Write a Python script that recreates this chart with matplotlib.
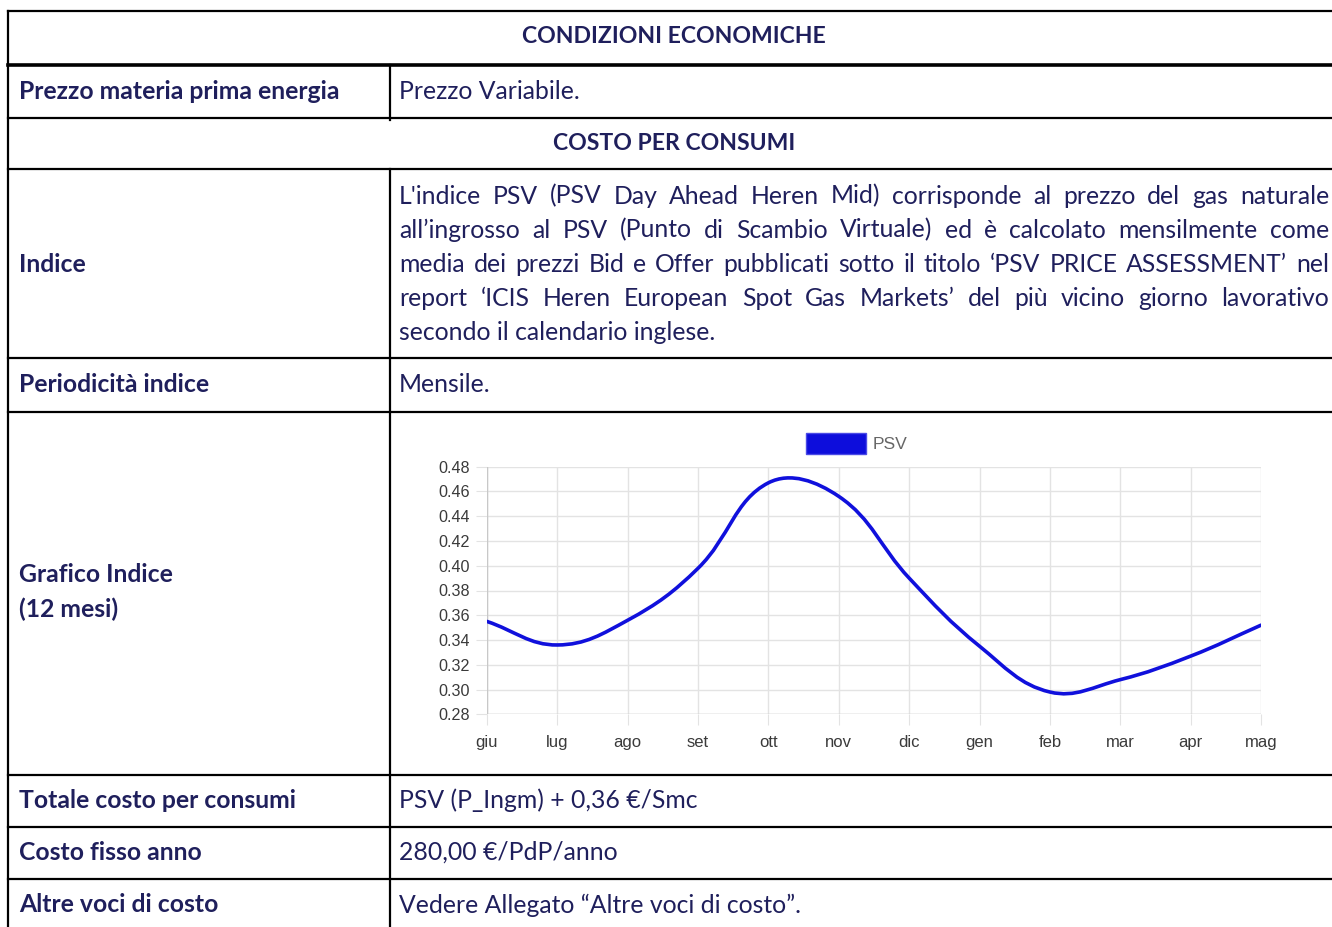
import numpy as np
import matplotlib
matplotlib.use("Agg")
import matplotlib.pyplot as plt
from matplotlib.path import Path
from matplotlib.patches import PathPatch, Rectangle

# dati del grafico PSV (12 mesi)
mesi = ["giu", "lug", "ago", "set", "ott", "nov", "dic", "gen", "feb", "mar", "apr", "mag"]
psv = [0.355, 0.336, 0.356, 0.398, 0.467, 0.456, 0.390, 0.335, 0.298, 0.308, 0.327, 0.352]
y_ticks = [0.28, 0.30, 0.32, 0.34, 0.36, 0.38, 0.40, 0.42, 0.44, 0.46, 0.48]

# testi della tabella
titolo_1 = "CONDIZIONI ECONOMICHE"
titolo_2 = "COSTO PER CONSUMI"
righe = [
    ("Prezzo materia prima energia", "Prezzo Variabile."),
    ("Periodicità indice", "Mensile."),
    ("Totale costo per consumi", "PSV (P_Ingm) + 0,36 €/Smc"),
    ("Costo fisso anno", "280,00 €/PdP/anno"),
    ("Altre voci di costo", "Vedere Allegato \u201cAltre voci di costo\u201d."),
]
indice_righe = [
    "L'indice PSV (PSV Day Ahead Heren Mid) corrisponde al prezzo del gas naturale",
    "all\u2019ingrosso al PSV (Punto di Scambio Virtuale) ed è calcolato mensilmente come",
    "media dei prezzi Bid e Offer pubblicati sotto il titolo \u2018PSV PRICE ASSESSMENT\u2019 nel",
    "report \u2018ICIS Heren European Spot Gas Markets\u2019 del più vicino giorno lavorativo",
    "secondo il calendario inglese.",
]

W, H = 1332, 927
fig = plt.figure(figsize=(W / 100, H / 100), dpi=100)
ax = fig.add_axes([0, 0, 1, 1])
ax.set_xlim(0, W)
ax.set_ylim(H, 0)
ax.axis("off")

navy = "#1f1f5c"
font = "Lato"
fs = 17.8
fs_tit = 16.6
x_left, x_div, x_right = 8, 390, W + 5

# linee orizzontali
ax.plot([x_left, x_right], [11, 11], color="black", lw=1.6)
ax.plot([x_left, x_right], [65, 65], color="black", lw=2.6)
for y in [118, 169, 358, 412, 775, 827, 879]:
    ax.plot([x_left, x_right], [y, y], color="black", lw=1.6)
# linee verticali
ax.plot([x_left, x_left], [11, H + 5], color="black", lw=1.6)
ax.plot([x_div, x_div], [65, 120], color="black", lw=1.6)
ax.plot([x_div, x_div], [169, H + 5], color="black", lw=1.6)

cx = 674
ax.text(cx, 36, titolo_1, ha="center", va="center", fontsize=fs_tit, fontweight="bold", color=navy, family=font)
ax.text(cx, 143, titolo_2, ha="center", va="center", fontsize=fs_tit, fontweight="bold", color=navy, family=font)

ys_righe = [91, 385, 800, 852, 905]
for (lab, val), y in zip(righe, ys_righe):
    ax.text(19, y, lab, ha="left", va="center", fontsize=fs, fontweight="bold", color=navy, family=font)
    ax.text(399, y, val, ha="left", va="center", fontsize=fs, color=navy, family=font)

ax.text(19, 264, "Indice", ha="left", va="center", fontsize=fs, fontweight="bold", color=navy, family=font)
ax.text(19, 575, "Grafico Indice", ha="left", va="center", fontsize=fs, fontweight="bold", color=navy, family=font)
ax.text(19, 609, "(12 mesi)", ha="left", va="center", fontsize=fs, fontweight="bold", color=navy, family=font)

# paragrafo giustificato
renderer = fig.canvas.get_renderer()
x0, x1 = 399, 1329
for i, riga in enumerate(indice_righe):
    y = 196 + 34 * i
    parole = riga.split(" ")
    if i == len(indice_righe) - 1:
        ax.text(x0, y, riga, ha="left", va="center", fontsize=fs, color=navy, family=font)
        continue
    objs = [ax.text(0, y, p, ha="left", va="center", fontsize=fs, color=navy, family=font) for p in parole]
    larg = [o.get_window_extent(renderer).width for o in objs]
    gap = (x1 - x0 - sum(larg)) / (len(parole) - 1)
    x = x0
    for o, w in zip(objs, larg):
        o.set_x(x)
        x += w + gap

# grafico PSV
px_l, px_r, py_t, py_b = 487, 1261, 466.7, 714.3
cax = fig.add_axes([px_l / W, 1 - py_b / H, (px_r - px_l) / W, (py_b - py_t) / H])
cax.set_xlim(0, len(mesi) - 1)
cax.set_ylim(y_ticks[0], y_ticks[-1])
for s in cax.spines.values():
    s.set_visible(False)
cax.set_xticks(range(len(mesi)))
cax.set_xticklabels(mesi)
cax.set_yticks(y_ticks)
cax.set_yticklabels([f"{v:.2f}" for v in y_ticks])
cax.grid(True, color="#e3e3e3", lw=1)
cax.tick_params(length=8, width=0.8, color="#e3e3e3", labelcolor="#3a3a3a")
cax.tick_params(axis="x", pad=7, labelsize=12)
cax.tick_params(axis="y", pad=4, labelsize=11.6)
for lab in cax.get_xticklabels() + cax.get_yticklabels():
    lab.set_family("Liberation Sans")
cax.axvline(0, color="#c8c8c8", lw=1)
cax.axhline(y_ticks[0], color="#c8c8c8", lw=1)

# curva tipo bezier (tensione 0.4) calcolata in pixel
xs = np.arange(len(psv), dtype=float)
pts = cax.transData.transform(np.column_stack([xs, psv]))
n = len(pts)
verts = [pts[0]]
codes = [Path.MOVETO]
cps = []
t = 0.4
for i in range(n):
    p0 = pts[max(i - 1, 0)]
    p1 = pts[i]
    p2 = pts[min(i + 1, n - 1)]
    d01 = np.hypot(*(p1 - p0))
    d12 = np.hypot(*(p2 - p1))
    tot = d01 + d12
    s01 = d01 / tot if tot else 0
    s12 = d12 / tot if tot else 0
    cps.append((p1 - t * s01 * (p2 - p0), p1 + t * s12 * (p2 - p0)))
for i in range(1, n):
    verts += [cps[i - 1][1], cps[i][0], pts[i]]
    codes += [Path.CURVE4] * 3
verts = cax.transData.inverted().transform(np.array(verts))
cax.add_patch(PathPatch(Path(verts, codes), fill=False, edgecolor="#1010dc", lw=2.6,
                        capstyle="round", zorder=3))

# legenda
ax.add_patch(Rectangle((806, 433), 60, 21, facecolor="#0d0ddc", edgecolor="#4a4ae6", lw=1))
ax.text(873, 444, "PSV", ha="left", va="center", fontsize=12.6, color="#666666", family="Liberation Sans")

fig.savefig("out.png", dpi=100)
